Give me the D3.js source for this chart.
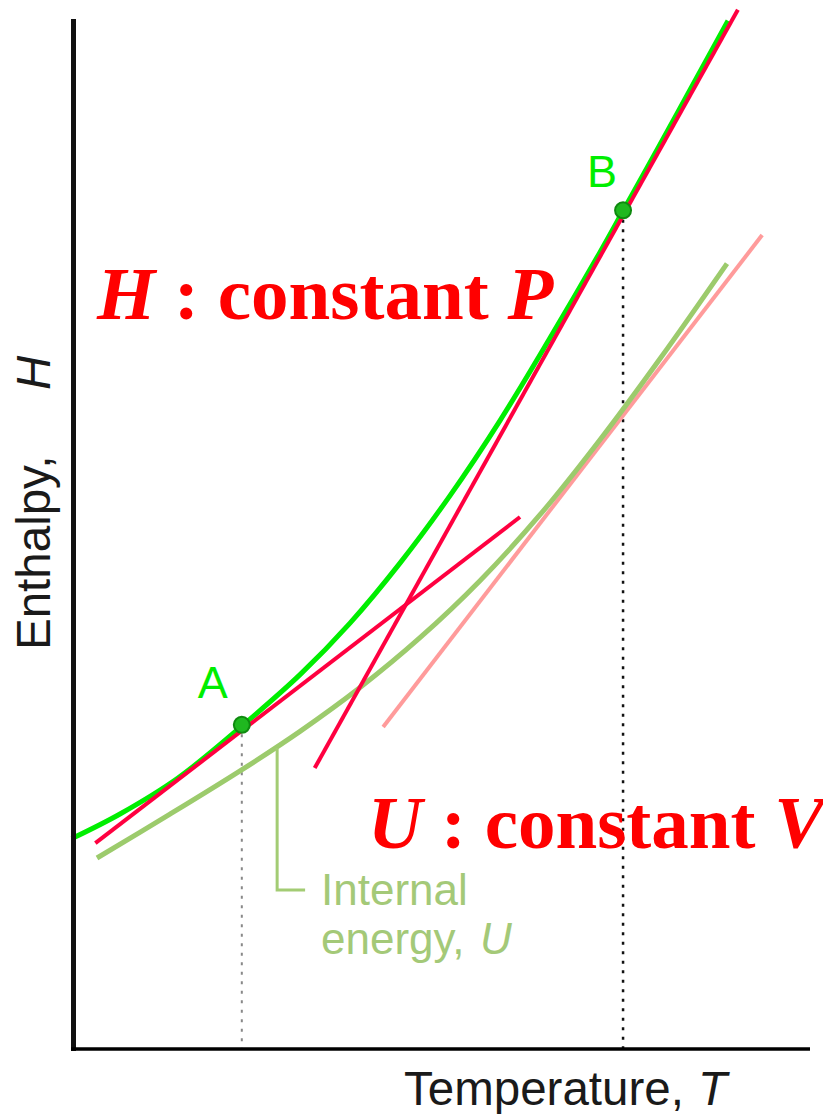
<!DOCTYPE html>
<html>
<head>
<meta charset="utf-8">
<script src="https://cdn.jsdelivr.net/npm/d3@7"></script>
<style>
  html, body { margin: 0; padding: 0; background: #fff; }
  svg { display: block; }
</style>
</head>
<body>
<svg id="chart" width="823" height="1114"></svg>
<script>
// ---- data (abstract units: temperature T, enthalpy H) ----
const enthalpyCurveT = [-0.03, 0.625, 1.413, 2.283, 3.071, 3.750, 4.429, 5.109, 5.788, 6.467, 7.147, 7.459, 7.962, 8.410, 8.886];
const enthalpyCurveH = [2.045, 2.284, 2.634, 3.140, 3.638, 4.139, 4.722, 5.378, 6.107, 6.909, 7.744, 8.143, 8.790, 9.373, 9.992];

const internalCurveT = [0.3125, 1.304, 2.283, 3.071, 3.886, 4.701, 5.516, 6.332, 7.147, 7.962, 8.872];
const internalCurveU = [1.856, 2.282, 2.715, 3.087, 3.513, 3.997, 4.551, 5.192, 5.921, 6.708, 7.633];

// tangent segments [T0, H0, T1, H1]
const tangentA = [0.29, 2.0, 6.06, 5.17];
const tangentB = [3.27, 2.73, 9.02, 10.10];
const tangentU = [4.20, 3.13, 9.35, 7.91];

const pointNames = ["A", "B"];
const pointT = [2.28, 7.46];
const pointH = [3.15, 8.15];

// leader from U curve to "Internal energy" label
const leaderT = [2.76, 2.76, 3.14];
const leaderH = [2.925, 1.545, 1.545];

// ---- layout ----
const svg = d3.select("#chart");
const x = d3.scaleLinear().domain([0, 10]).range([74, 810]);
const y = d3.scaleLinear().domain([0, 10]).range([1049, 20]);

const line = d3.line().x(d => x(d[0])).y(d => y(d[1]));
const smooth = d3.line().x(d => x(d[0])).y(d => y(d[1])).curve(d3.curveCatmullRom.alpha(0.5));

// dotted drop lines
const dropColors = ["#888", "#111"];
const dropWidths = [2, 2.5];
pointT.forEach((t, i) => {
  svg.append("path")
    .attr("d", line([[t, pointH[i]], [t, 0]]))
    .attr("fill", "none")
    .attr("stroke", dropColors[i])
    .attr("stroke-width", dropWidths[i])
    .attr("stroke-dasharray", "3,6.5");
});

// pink tangent to U
svg.append("path")
  .attr("d", line([[tangentU[0], tangentU[1]], [tangentU[2], tangentU[3]]]))
  .attr("fill", "none").attr("stroke", "#ff9b9b").attr("stroke-width", 4);

// internal energy curve
svg.append("path")
  .attr("d", smooth(internalCurveT.map((t, i) => [t, internalCurveU[i]])))
  .attr("fill", "none").attr("stroke", "#9ccb6c").attr("stroke-width", 5)
  .attr("stroke-linecap", "butt");

// leader line
svg.append("path")
  .attr("d", line(leaderT.map((t, i) => [t, leaderH[i]])))
  .attr("fill", "none").attr("stroke", "#a3cc74").attr("stroke-width", 3);

// enthalpy curve (green)
svg.append("path")
  .attr("d", smooth(enthalpyCurveT.map((t, i) => [t, enthalpyCurveH[i]])))
  .attr("fill", "none").attr("stroke", "#00ee00").attr("stroke-width", 5);

// red tangents
[tangentA, tangentB].forEach(s => {
  svg.append("path")
    .attr("d", line([[s[0], s[1]], [s[2], s[3]]]))
    .attr("fill", "none").attr("stroke", "#ff0040").attr("stroke-width", 4);
});

// points
pointT.forEach((t, i) => {
  svg.append("circle")
    .attr("cx", x(t)).attr("cy", y(pointH[i])).attr("r", 8)
    .attr("fill", "#1fb81f").attr("stroke", "#0f8a0f").attr("stroke-width", 2);
});

// point labels
const labelDx = [-29, -21];
const labelDy = [-27, -23];
pointNames.forEach((n, i) => {
  svg.append("text")
    .attr("x", x(pointT[i]) + labelDx[i]).attr("y", y(pointH[i]) + labelDy[i])
    .attr("text-anchor", "middle")
    .attr("font-family", "Liberation Sans, Arial, sans-serif")
    .attr("font-size", 45)
    .attr("fill", "#00ee00")
    .text(n);
});

// axes
svg.append("line")
  .attr("x1", x(0) - 0.5).attr("x2", x(0) - 0.5).attr("y1", y(10) - 1).attr("y2", y(0) + 2)
  .attr("stroke", "#111").attr("stroke-width", 5);
svg.append("line")
  .attr("x1", x(0) - 3).attr("x2", x(10)).attr("y1", y(0)).attr("y2", y(0))
  .attr("stroke", "#000").attr("stroke-width", 3.5);

// axis labels
const yLab = svg.append("text")
  .attr("transform", "translate(50,650) rotate(-90)")
  .attr("font-family", "Liberation Sans, Arial, sans-serif")
  .attr("font-size", 47.5)
  .attr("fill", "#1a1a1a");
yLab.append("tspan").text("Enthalpy,");
yLab.append("tspan").attr("x", 260).attr("font-style", "italic").text("H");

const xLab = svg.append("text")
  .attr("x", 404).attr("y", 1105)
  .attr("font-family", "Liberation Sans, Arial, sans-serif")
  .attr("font-size", 47.5)
  .attr("fill", "#1a1a1a");
xLab.append("tspan").text("Temperature,");
xLab.append("tspan").attr("x", 698).attr("font-style", "italic").text("T");

// internal energy label
const ie = svg.append("text")
  .attr("font-family", "Liberation Sans, Arial, sans-serif")
  .attr("font-size", 44)
  .attr("fill", "#a4c978");
ie.append("tspan").attr("x", 321).attr("y", 905).text("Internal");
ie.append("tspan").attr("x", 321).attr("y", 954).text("energy,");
ie.append("tspan").attr("x", 480).attr("font-style", "italic").text("U");

// big red annotations
function bigLabel(xp, yp, a, b) {
  const t = svg.append("text")
    .attr("x", xp).attr("y", yp)
    .attr("font-family", "Liberation Serif, Times New Roman, serif")
    .attr("font-weight", "bold")
    .attr("font-size", 75)
    .attr("fill", "#ff0000");
  t.append("tspan").attr("font-style", "italic").text(a);
  t.append("tspan").text(" : constant ");
  t.append("tspan").attr("font-style", "italic").text(b);
}
bigLabel(97, 319, "H", "P");
bigLabel(368, 848, "U", "V");
</script>
</body>
</html>
